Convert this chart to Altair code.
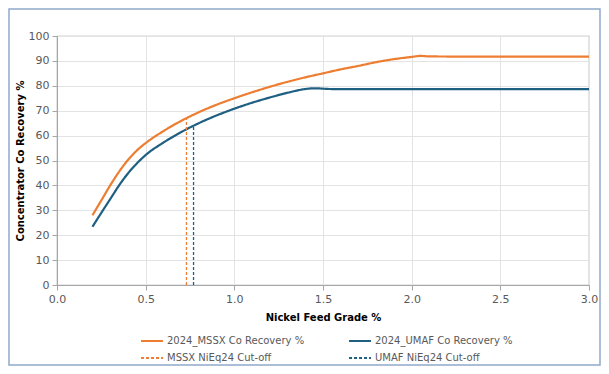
import altair as alt
import pandas as pd

# Nickel feed grade (%) sample points
grade = [0.2, 0.25, 0.3, 0.35, 0.4, 0.45, 0.5, 0.6, 0.7, 0.8, 0.9, 1.0, 1.1, 1.2, 1.3,
         1.4, 1.5, 1.6, 1.7, 1.8, 1.9, 2.0, 2.05, 2.1, 2.5, 3.0]
mssx = [28, 34, 40, 45.5, 50.2, 54.0, 57.0, 61.8, 65.9, 69.4, 72.4, 75.0, 77.4, 79.6, 81.6,
        83.4, 85.0, 86.6, 88.0, 89.5, 90.7, 91.6, 92.0, 91.8, 91.7, 91.7]
umaf_grade = [0.2, 0.25, 0.3, 0.35, 0.4, 0.45, 0.5, 0.6, 0.7, 0.8, 0.9, 1.0, 1.1, 1.2,
              1.3, 1.4, 1.45, 1.55, 2.0, 2.5, 3.0]
umaf = [23.4, 29, 34.5, 40, 44.8, 48.8, 52.2, 57.2, 61.4, 65.0, 68.1, 70.8, 73.2, 75.3,
        77.2, 78.7, 79.0, 78.7, 78.7, 78.7, 78.7]

series = ["2024_MSSX Co Recovery %", "2024_UMAF Co Recovery %",
          "MSSX NiEq24 Cut-off", "UMAF NiEq24 Cut-off"]
colors = ["#ED7D31", "#1F5F82", "#ED7D31", "#1F5F82"]
dashes = [[1, 0], [1, 0], [3, 2], [3, 2]]

x_ticks = [0, 0.5, 1, 1.5, 2, 2.5, 3]
y_ticks = [0, 10, 20, 30, 40, 50, 60, 70, 80, 90, 100]

cutoff_x = [0.73, 0.77]
cutoff_y = [67, 63.6]

lines = pd.DataFrame(
    [{"x": g, "y": v, "s": series[0]} for g, v in zip(grade, mssx)]
    + [{"x": g, "y": v, "s": series[1]} for g, v in zip(umaf_grade, umaf)]
)
rules = pd.DataFrame({"x": cutoff_x, "y0": [0, 0], "y": cutoff_y, "s": series[2:]})

W, H = 532, 249
FONT = "DejaVu Sans"

color = alt.Color("s:N", scale=alt.Scale(domain=series, range=colors),
                  legend=alt.Legend(title=None, orient="none", legendX=83, legendY=293,
                                    columns=2, columnPadding=40, rowPadding=-4,
                                    symbolType="stroke", symbolSize=480,
                                    symbolStrokeWidth=2, labelFontSize=10,
                                    labelColor="#595959", labelFont=FONT,
                                    labelOffset=3, direction="horizontal"))
dash = alt.StrokeDash("s:N", scale=alt.Scale(domain=series, range=dashes), legend=None)

x_axis = alt.Axis(values=x_ticks, format=".1f", labelFlush=False,
                  title="Nickel Feed Grade  %", titlePadding=8)
y_axis = alt.Axis(values=y_ticks, tickCount=11, labelOverlap=False, labelFlush=False,
                  title="Concentrator Co Recovery  %", titlePadding=3)
x_scale = alt.Scale(domain=[0, 3], nice=False)
y_scale = alt.Scale(domain=[0, 100], nice=False)

line_layer = alt.Chart(lines).mark_line(strokeWidth=2.2, interpolate="monotone").encode(
    x=alt.X("x:Q", scale=x_scale, axis=x_axis),
    y=alt.Y("y:Q", scale=y_scale, axis=y_axis),
    color=color, strokeDash=dash,
)
rule_layer = alt.Chart(rules).mark_rule(strokeWidth=1.3).encode(
    x=alt.X("x:Q", scale=x_scale, axis=x_axis),
    y=alt.Y("y0:Q", scale=y_scale, axis=y_axis),
    y2="y:Q", color=color, strokeDash=dash,
)
border = alt.Chart(pd.DataFrame({"a": [0]})).mark_rect(
    fill=None, stroke="#8EA9CC", strokeWidth=1.5
).encode(x=alt.value(-48), x2=alt.value(W + 11), y=alt.value(-27), y2=alt.value(H + 80))

chart = alt.layer(line_layer, rule_layer, border).properties(
    width=W, height=H,
    autosize=alt.AutoSizeParams(type="none"),
    padding={"left": 49, "top": 28, "right": 12, "bottom": 81},
).configure_view(stroke="#A6A6A6", strokeWidth=1.2).configure_axis(
    grid=True, gridColor="#E3E3E3", domainColor="#A6A6A6", tickColor="#A6A6A6",
    tickSize=5, labelFont=FONT, labelFontSize=11, labelColor="#595959",
    titleFont=FONT, titleFontSize=10, titleFontWeight="bold", titleColor="#000000",
    labelPadding=3,
)

chart.save("out.html", embed_options={"renderer": "svg", "actions": False})
